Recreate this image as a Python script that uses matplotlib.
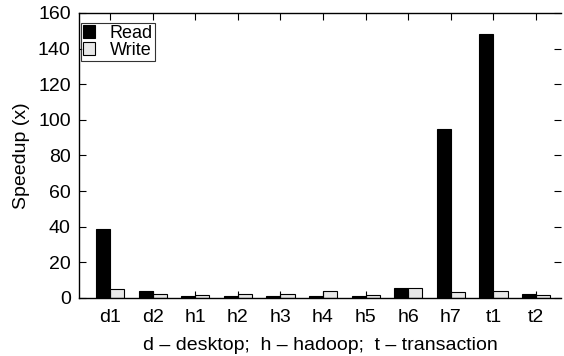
import matplotlib
matplotlib.use('Agg')
import matplotlib.pyplot as plt
import numpy as np

plt.rcParams['font.family'] = ['Liberation Sans', 'DejaVu Sans']

labels = ['d1', 'd2', 'h1', 'h2', 'h3', 'h4', 'h5', 'h6', 'h7', 't1', 't2']
read = [39, 4, 1, 1, 1, 1, 1, 5.5, 95, 148, 2]
write = [5, 2, 1.5, 2, 2.5, 4, 1.5, 5.5, 3.5, 4, 1.5]

x = np.arange(len(labels))
w = 0.33

fig = plt.figure(figsize=(5.64, 3.56), dpi=100)
ax = fig.add_axes([0.140, 0.163, 0.855, 0.8005])

ax.bar(x - w/2, read, w, color='black', edgecolor='black', linewidth=0.8, label='Read')
ax.bar(x + w/2, write, w, color='#e8e8e8', edgecolor='black', linewidth=0.8, label='Write')

ax.set_xlim(-0.73, 10.59)
ax.set_ylim(0, 160)
ax.set_xticks(x)
ax.set_xticklabels(labels)
ax.set_yticks(range(0, 161, 20))
ax.tick_params(axis='both', direction='in', labelsize=14, length=5, width=0.8,
               top=True, right=True)
ax.tick_params(axis='x', pad=8)
ax.tick_params(axis='y', pad=6)
ax.spines['right'].set_visible(False)
for s in ['left', 'top', 'bottom']:
    ax.spines[s].set_linewidth(1.0)

ax.set_ylabel('Speedup (x)', fontsize=14, labelpad=6)
ax.set_xlabel('d \u2013 desktop;  h \u2013 hadoop;  t \u2013 transaction', fontsize=14, labelpad=8)

leg = ax.legend(loc='upper left', bbox_to_anchor=(0.004, 0.965), fontsize=13,
                frameon=True, fancybox=False,
                handlelength=0.7, handleheight=0.7, handletextpad=0.8,
                borderpad=0.1, labelspacing=0.0, borderaxespad=0.0)
leg.get_frame().set_edgecolor('black')
leg.get_frame().set_linewidth(0.8)

fig.savefig('out.png', dpi=100)
